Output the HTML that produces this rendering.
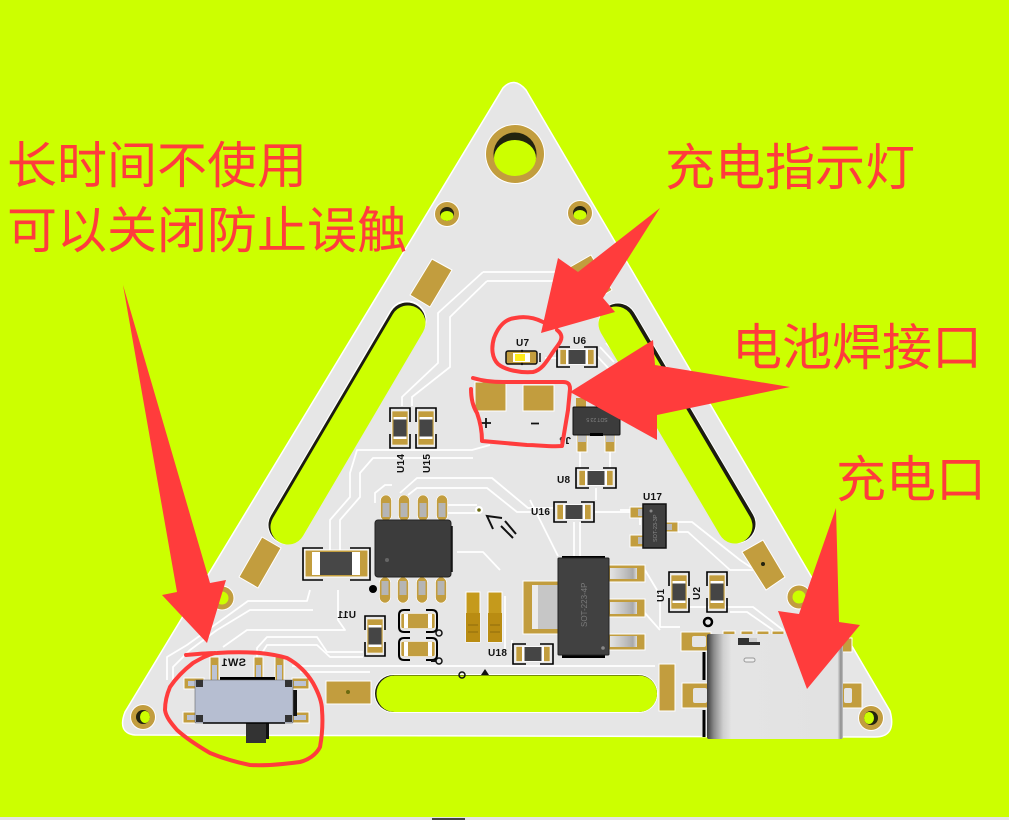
<!DOCTYPE html>
<html lang="zh">
<head>
<meta charset="utf-8">
<style>
html,body{margin:0;padding:0;background:#ccff00;width:1009px;height:820px;overflow:hidden}
svg{display:block}
.cn{font-family:"Liberation Sans","Noto Sans CJK SC",sans-serif;font-size:50px;fill:#ff3c3c;font-weight:400}
.lb{font-family:"Liberation Sans",sans-serif;font-size:10px;font-weight:700;fill:#111;letter-spacing:.3px}
.tr{fill:none;stroke:#fff;stroke-width:1.8;stroke-linejoin:round}
</style>
</head>
<body>
<svg width="1009" height="820" viewBox="0 0 1009 820" xmlns="http://www.w3.org/2000/svg">
<defs>
<linearGradient id="usb" x1="0" x2="1" y1="0" y2="0">
<stop offset="0" stop-color="#3c3c3c"/><stop offset=".05" stop-color="#8a8a8a"/><stop offset=".12" stop-color="#cfcfcf"/><stop offset=".18" stop-color="#e4e4e4"/><stop offset=".96" stop-color="#e2e2e2"/><stop offset=".985" stop-color="#8c8c8c"/><stop offset="1" stop-color="#c4c4c4"/>
</linearGradient>
<linearGradient id="pin" x1="0" x2="1" y1="0" y2="0">
<stop offset="0" stop-color="#e4e4e4"/><stop offset=".5" stop-color="#c4c4c4"/><stop offset=".85" stop-color="#aaa"/><stop offset="1" stop-color="#ddd"/>
</linearGradient>
<g id="v">
<rect x="-8" y="-17" width="16" height="34" fill="#c29d3e" stroke="#fff" stroke-width=".6"/>
<rect x="-6.500" y="-11" width="13" height="22" fill="#fff"/>
<rect x="-6.500" y="-8.500" width="13" height="17" fill="#454545"/>
<path d="M-10-6V-20H10V-6M-10 6V20H10V6" fill="none" stroke="#000" stroke-width="1.600"/>
</g>
<g id="h">
<rect x="-17" y="-7.500" width="34" height="15" fill="#c29d3e" stroke="#fff" stroke-width=".6"/>
<rect x="-11" y="-7.500" width="22" height="15" fill="#fff"/>
<rect x="-8.500" y="-7" width="17" height="14" fill="#454545"/>
<path d="M-7-10H-20V10H-7M7-10H20V10H7" fill="none" stroke="#000" stroke-width="1.600"/>
</g>
<g id="lead">
<rect x="-5.500" y="-13" width="11" height="26" rx="5.500" fill="#c29d3e" stroke="#fff" stroke-width=".6"/>
<rect x="-3.500" y="-5" width="7" height="14" fill="#b5b5b5"/>
</g>
<g id="leadb">
<rect x="-5.500" y="-13" width="11" height="26" rx="5.500" fill="#c29d3e" stroke="#fff" stroke-width=".6"/>
<rect x="-3.500" y="-9" width="7" height="14" fill="#b5b5b5"/>
</g>
<g id="cap">
<rect x="-17" y="-7.500" width="34" height="15" rx="2" fill="#c29d3e" stroke="#fff" stroke-width=".6"/>
<rect x="-14" y="-7" width="4" height="14" fill="#fff"/>
<rect x="10" y="-7" width="4" height="14" fill="#fff"/>
<path d="M-8-11H-14Q-19-11-19-6V6Q-19 11-14 11H-8M8-11H14Q19-11 19-6V6Q19 11 14 11H8" fill="none" stroke="#000" stroke-width="2"/>
</g>
</defs>

<rect width="1009" height="820" fill="#ccff00"/>

<!-- board -->
<path d="M503 88Q514 76 526 90L890 711Q897 737 875 737L135 735Q117 733 125 712Z" fill="#e6e6e6" stroke="#fff" stroke-width="1.500"/>

<!-- traces -->
<g class="tr">
<path d="M483 272H567L590 290"/>
<path d="M487 281H553L570 296"/>
<path d="M483 272L438 313V363L402 397V406"/>
<path d="M487 281L450 317V367L412 397V406"/>
<path d="M490 445L472 450H357L350 473V497L330 520V560"/>
<path d="M473 458H373L360 473V497L340 520V560"/>
<path d="M375 503V493L385 485H392"/>
<path d="M400 493L417 478H492L528 508H553"/>
<path d="M408 495L417 488H487L517 512H533"/>
<path d="M448 505H477M448 513H477"/>
<path d="M457 552H483L500 570"/>
<path d="M310 590L307 601H248L187 645L167 657V680"/>
<path d="M313 610H250L217 630L190 650L173 667V680"/>
<path d="M338 590V620L345 630H247L223 647"/>
<path d="M363 652H327L317 637H267L257 648V658"/>
<path d="M363 657H330L317 645H267L262 653"/>
<path d="M292 666H655M300 672H370"/>
<path d="M595 512H643"/>
<path d="M574 522V556M580 522V556"/>
<path d="M596 488V500M610 452V468M580 452V468"/>
<path d="M620 510H630"/>
<path d="M677 522H692L740 560L752 568"/>
<path d="M678 532H688L730 570H753"/>
<path d="M645 570L660 595V627H680"/>
<path d="M690 607H730H753L783 630"/>
<path d="M730 612H747L773 630"/>
<path d="M505 596V650M512 640V650"/>
<path d="M545 358H557M600 347L614 362M606 343L620 358M597 356L610 370"/>
<path d="M620 612H644L660 630"/>
<path d="M530 500L558 556M640 512V525"/>
</g>

<!-- slots -->
<path d="M407 320L287 525" stroke="#fff" stroke-width="39" stroke-linecap="round" fill="none"/>
<path d="M407 321L287 525" stroke="#1c1c10" stroke-width="37" stroke-linecap="round" fill="none"/>
<path d="M408 323L288 527" stroke="#ccff00" stroke-width="35" stroke-linecap="round" fill="none"/>
<path d="M618 322L737 524" stroke="#fff" stroke-width="39" stroke-linecap="round" fill="none"/>
<path d="M618 322L737 524" stroke="#1c1c10" stroke-width="37" stroke-linecap="round" fill="none"/>
<path d="M616 324L735 526" stroke="#ccff00" stroke-width="35" stroke-linecap="round" fill="none"/>
<rect x="374" y="674" width="284" height="39" rx="19.500" fill="#fff"/>
<rect x="375" y="675" width="282" height="37" rx="18.500" fill="#1c1c10"/>
<rect x="376.500" y="675.500" width="280.500" height="36.500" rx="18" fill="#ccff00"/>

<!-- mounting holes -->
<g>
<circle cx="515" cy="154" r="30" fill="#fff"/><circle cx="515" cy="154" r="29" fill="#c29d3e"/><circle cx="515" cy="154" r="21.500" fill="#23230f"/>
<ellipse cx="515" cy="158" rx="21" ry="18" fill="#ccff00"/>
<circle cx="447" cy="214" r="13" fill="#fff"/><circle cx="447" cy="214" r="12" fill="#c29d3e"/><circle cx="447" cy="214" r="7" fill="#23230f"/><ellipse cx="447" cy="216" rx="6.500" ry="5" fill="#ccff00"/>
<circle cx="580" cy="213" r="13" fill="#fff"/><circle cx="580" cy="213" r="12" fill="#c29d3e"/><circle cx="580" cy="213" r="7" fill="#23230f"/><ellipse cx="580" cy="215" rx="6.500" ry="5" fill="#ccff00"/>
<circle cx="143" cy="717" r="13" fill="#fff"/><circle cx="143" cy="717" r="12" fill="#c29d3e"/><circle cx="143" cy="717" r="7" fill="#23230f"/><ellipse cx="145" cy="717" rx="5" ry="6" fill="#ccff00"/>
<circle cx="871" cy="718" r="13" fill="#fff"/><circle cx="871" cy="718" r="12" fill="#c29d3e"/><circle cx="871" cy="718" r="7" fill="#23230f"/><ellipse cx="869" cy="718" rx="5" ry="6" fill="#ccff00"/>
<circle cx="222" cy="598" r="12" fill="#c29d3e" stroke="#fff"/><circle cx="222" cy="598" r="6.500" fill="#ccff00"/>
<circle cx="799" cy="597" r="12" fill="#c29d3e" stroke="#fff"/><circle cx="799" cy="597" r="6.500" fill="#ccff00"/>
</g>

<!-- tilted pads -->
<g fill="#c29d3e" stroke="#fff">
<polygon points="432,259 452,270 430,307 410,295"/>
<polygon points="262,537 281,548 258,588 239,577"/>
<polygon points="763,540 785,577 766,590 742,552"/>
<polygon points="570,267 591,255 612,290 592,302"/>
</g>
<circle cx="763" cy="564" r="2" fill="#23230f"/>

<!-- battery pads -->
<rect x="475" y="382" width="31" height="29" fill="#c29d3e" stroke="#fff"/>
<rect x="523" y="385" width="31" height="26" fill="#c29d3e" stroke="#fff"/>
<path d="M481 423H491M486 418V428M531 423.500H539" stroke="#111" stroke-width="1.800" fill="none"/>

<!-- U7 LED -->
<rect x="506" y="351" width="31" height="13" rx="2" fill="#c29d3e" stroke="#111" stroke-width="1.500"/>
<rect x="513" y="353" width="17" height="9" fill="#fff"/>
<rect x="515" y="354" width="10" height="7" fill="#ffea1a"/>
<circle cx="522" cy="351" r="1.200" fill="#111"/><circle cx="522" cy="364" r="1.200" fill="#111"/>
<path d="M540 353V362" stroke="#111" stroke-width="1.500"/>
<use href="#h" x="577" y="357"/>
<text class="lb" x="516" y="346">U7</text>
<text class="lb" x="573" y="344">U6</text>

<!-- SOT at J4 -->
<rect x="576" y="398" width="10" height="10" fill="#c29d3e"/><rect x="606" y="398" width="10" height="10" fill="#c29d3e"/>
<rect x="577" y="431" width="10" height="21" fill="#c29d3e" stroke="#fff"/><rect x="605" y="431" width="10" height="21" fill="#c29d3e" stroke="#fff"/>
<rect x="578" y="434" width="8" height="8" fill="#c0c0c0"/><rect x="606" y="434" width="8" height="8" fill="#c0c0c0"/>
<rect x="573" y="407" width="47" height="28" rx="1" fill="#3c3c3c" stroke="#111"/>
<rect x="590" y="433" width="13" height="3" fill="#000"/>
<text x="597" y="422" font-family="Liberation Sans,sans-serif" font-size="5" fill="#888" text-anchor="middle" transform="rotate(180 597 420)">SOT 23 5</text>
<text x="567" y="445" class="lb" transform="rotate(180 569 441)">J4</text>

<!-- small passives -->
<use href="#v" x="400" y="428"/><use href="#v" x="426" y="428"/>
<use href="#v" x="679" y="592"/><use href="#v" x="717" y="592"/>
<use href="#v" x="375" y="636"/>
<use href="#h" x="596" y="478"/><use href="#h" x="574" y="512"/><use href="#h" x="533" y="654"/>
<g class="lb">
<text transform="translate(404,473) rotate(-90)">U14</text>
<text transform="translate(430,473) rotate(-90)">U15</text>
<text transform="translate(664,602) rotate(-90)">U1</text>
<text transform="translate(700,600) rotate(-90)">U2</text>
<text x="557" y="483">U8</text>
<text x="531" y="515">U16</text>
<text x="643" y="500">U17</text>
<text x="488" y="656">U18</text>
<text transform="translate(356,618) scale(-1,1)">U11</text>
</g>

<!-- via and silk marks -->
<circle cx="479" cy="510" r="4" fill="#fff"/><circle cx="479" cy="510" r="1.800" fill="#6b6b10"/>
<path d="M502 518L487 516L493 529M501 526L513 538M505 521L516 534" stroke="#111" stroke-width="2" fill="none"/>

<!-- SOIC -->
<g>
<use href="#lead" x="386" y="508"/><use href="#lead" x="404" y="508"/><use href="#lead" x="423" y="508"/><use href="#lead" x="442" y="508"/>
<use href="#leadb" x="385" y="590"/><use href="#leadb" x="403" y="590"/><use href="#leadb" x="422" y="590"/><use href="#leadb" x="441" y="590"/>
<rect x="375" y="520" width="76" height="57" rx="3" fill="#3c3c3c" stroke="#222"/>
<circle cx="387" cy="560" r="2" fill="#666"/>
<path d="M452 526V572" stroke="#111" stroke-width="1.500"/>
</g>
<circle cx="373" cy="589" r="4" fill="#000"/>

<!-- large resistor -->
<rect x="305" y="550" width="63" height="27" fill="#c29d3e" stroke="#fff"/>
<rect x="312" y="552" width="48" height="23" fill="#fff"/>
<rect x="320" y="552" width="32" height="23" fill="#474747"/>
<path d="M323 548H303V580H323M350 548H370V580H350" fill="none" stroke="#000" stroke-width="1.600"/>

<!-- caps -->
<use href="#cap" x="418" y="621"/><use href="#cap" x="418" y="649"/>
<circle cx="439" cy="633" r="3" fill="none" stroke="#111" stroke-width="1.500"/>
<circle cx="439" cy="661" r="3" fill="none" stroke="#111" stroke-width="1.500"/>
<path d="M431 661H436" stroke="#111" stroke-width="2"/>

<!-- gold connectors -->
<g>
<rect x="466" y="592" width="14" height="50" fill="#c59a1c" stroke="#fff"/>
<rect x="488" y="592" width="14" height="50" fill="#c59a1c" stroke="#fff"/>
<rect x="466" y="613" width="14" height="29" fill="#b98c12"/><rect x="488" y="613" width="14" height="29" fill="#b98c12"/>
<path d="M468 625H478M468 632H478M490 625H500M490 632H500" stroke="#8f6c0c"/>
</g>
<circle cx="462" cy="675" r="3" fill="none" stroke="#111" stroke-width="1.500"/>
<path d="M481 675L485 669L489 675Z" fill="#111"/>

<!-- SOT-223 -->
<rect x="523" y="581" width="36" height="53" fill="#c29d3e" stroke="#fff"/>
<rect x="532" y="585" width="27" height="44" fill="#c6c6c6"/><rect x="532" y="585" width="6" height="44" fill="#ececec"/>
<g fill="#c29d3e" stroke="#fff">
<rect x="606" y="565" width="39" height="17"/><rect x="606" y="599" width="39" height="18"/><rect x="606" y="634" width="39" height="16"/>
</g>
<g fill="url(#pin)">
<rect x="610" y="568" width="27" height="11"/><rect x="610" y="602" width="27" height="12"/><rect x="610" y="636" width="27" height="11"/>
</g>
<rect x="562" y="556" width="43" height="3" fill="#000"/><rect x="562" y="654" width="43" height="4" fill="#000"/>
<rect x="558" y="558" width="51" height="97" rx="1" fill="#414141" stroke="#222"/>
<circle cx="603" cy="648" r="1.800" fill="#888"/>
<text transform="translate(587,627) rotate(-90)" font-family="Liberation Sans,sans-serif" font-size="8" fill="#7a7a7a">SOT-223-4P</text>

<!-- U17 -->
<g fill="#c29d3e" stroke="#fff">
<rect x="630" y="507" width="15" height="11"/><rect x="630" y="535" width="15" height="12"/><rect x="665" y="522" width="13" height="10"/>
</g>
<rect x="638" y="509" width="7" height="7" fill="#bbb"/><rect x="638" y="537" width="7" height="7" fill="#bbb"/><rect x="665" y="524" width="7" height="6" fill="#bbb"/>
<rect x="643" y="504" width="23" height="44" fill="#3f3f3f" stroke="#111" stroke-width="1.500"/>
<circle cx="651" cy="511" r="1.500" fill="#888"/>
<text transform="translate(657,542) rotate(-90)" font-family="Liberation Sans,sans-serif" font-size="5.500" fill="#8a8a8a">SOT-23-3P</text>

<!-- USB-C -->
<circle cx="708" cy="622" r="4" fill="none" stroke="#000" stroke-width="2.500"/>
<g fill="#c29d3e" stroke="#fff">
<rect x="681" y="632" width="30" height="19"/><rect x="682" y="683" width="30" height="25"/><rect x="840" y="683" width="22" height="25"/>
<rect x="659" y="664" width="16" height="47"/><rect x="326" y="681" width="45" height="23"/>
<rect x="723" y="631" width="12" height="10"/><rect x="741" y="631" width="12" height="10"/><rect x="757" y="631" width="12" height="10"/><rect x="772" y="631" width="12" height="10"/>
<rect x="838" y="638" width="14" height="14"/>
</g>
<g fill="#e4e4e4">
<rect x="726" y="635" width="6" height="6"/><rect x="744" y="635" width="6" height="6"/><rect x="760" y="635" width="6" height="6"/><rect x="775" y="635" width="6" height="6"/>
</g>
<rect x="692" y="636" width="14" height="11" rx="2" fill="#e4e4e4"/><rect x="693" y="688" width="14" height="15" rx="2" fill="#e4e4e4"/><rect x="844" y="688" width="8" height="15" rx="2" fill="#e4e4e4"/>
<circle cx="348" cy="692" r="2" fill="#6b6b10"/>
<path d="M704 652V680M704 710V737" stroke="#000" stroke-width="3"/>
<rect x="707" y="634" width="136" height="105" rx="2" fill="url(#usb)"/>
<rect x="738" y="638" width="11" height="7" fill="#333"/><rect x="749" y="638" width="8" height="4" fill="#ccc"/><rect x="749" y="642" width="11" height="3" fill="#333"/>
<rect x="744" y="658" width="11" height="4" rx="2" fill="#eee" stroke="#999"/>

<!-- switch -->
<g>
<g fill="#c29d3e" stroke="#fff">
<rect x="184" y="678" width="20" height="11"/><rect x="183" y="712" width="20" height="11"/>
<rect x="292" y="678" width="17" height="11"/><rect x="292" y="712" width="17" height="11"/>
<rect x="210" y="657" width="9" height="24"/><rect x="254" y="657" width="9" height="24"/><rect x="275" y="657" width="9" height="24"/>
</g>
<g fill="#bcc3d4">
<rect x="188" y="681" width="10" height="5"/><rect x="187" y="715" width="10" height="5"/>
<rect x="294" y="681" width="12" height="5"/><rect x="294" y="715" width="12" height="5"/>
<rect x="212" y="665" width="5" height="16"/><rect x="256" y="665" width="5" height="16"/><rect x="277" y="665" width="5" height="16"/>
</g>
<text transform="translate(246,666) scale(-1,1)" class="lb" style="font-size:11px">SW1</text>
<rect x="220" y="677" width="55" height="4" fill="#000"/>
<rect x="293" y="690" width="4" height="26" fill="#111"/>
<rect x="248" y="722" width="21" height="17" fill="#111"/>
<rect x="246" y="723" width="20" height="20" fill="#333"/>
<rect x="195" y="680" width="98" height="43" rx="1" fill="#b6bed1" stroke="#666" stroke-width=".6"/>
<rect x="196" y="680" width="7" height="7" fill="#333"/><rect x="285" y="680" width="7" height="7" fill="#333"/>
<rect x="196" y="715" width="7" height="7" fill="#333"/><rect x="285" y="715" width="7" height="7" fill="#333"/>
<path d="M203 723H285" stroke="#000" stroke-width="1.500"/>
</g>

<!-- red annotations -->
<g fill="#ff3c3c">
<polygon points="541,333 558,258 578,272 660,208 603,298 615,312"/>
<polygon points="570,392 653,340 655,365 790,387 657,415 657,440"/>
<polygon points="123,285 210,583 226,580 207,643 162,595 177,592"/>
<polygon points="836,508 839,622 860,625 807,689 778,611 799,614"/>
</g>
<g fill="none" stroke="#ff3c3c" stroke-width="4" stroke-linecap="round" stroke-linejoin="round">
<path d="M543 322C535 318 525 316 515 318C505 319 498 327 494 338C491 348 492 358 498 364C505 370 520 373 533 372C542 370 547 361 553 352C558 345 563 340 561 335C560 332 558 331 557 330"/>
<path d="M473 378C483 381 492 382 503 382H563C568 382 570 384 570 389L568 410L562 446C550 447 538 445 527 445L482 441C482 433 481 424 477 413C472 405 471 397 471 389"/>
<path d="M186 655C197 654 207 653 217 653C232 652 246 652 260 653C270 654 280 656 287 658C298 664 307 673 313 683C318 692 322 701 322 710C323 722 322 736 320 747C316 755 308 760 300 762C285 764 266 766 250 765C235 762 222 758 210 753C198 746 187 739 177 730C171 723 166 717 165 710C165 702 167 694 170 687C176 678 184 670 193 663C200 659 207 655 215 653"/>
</g>
<text class="cn" x="7" y="183">长时间不使用</text>
<text class="cn" x="7" y="248">可以关闭防止误触</text>
<text class="cn" x="665" y="185">充电指示灯</text>
<text class="cn" x="732" y="365">电池焊接口</text>
<text class="cn" x="836" y="497">充电口</text>

<!-- bottom edge -->
<rect x="0" y="817" width="1009" height="3" fill="#e4e4e4"/>
<rect x="432" y="818" width="33" height="2" fill="#444"/>
</svg>
</body>
</html>
